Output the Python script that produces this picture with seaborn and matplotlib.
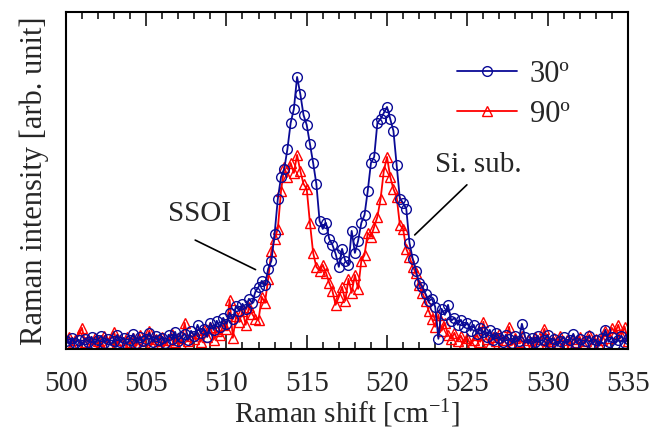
import numpy as np
import pandas as pd
import matplotlib
matplotlib.use("Agg")
import matplotlib.pyplot as plt
from matplotlib.ticker import MultipleLocator
import seaborn as sns

# Raman shift grid, 0.2 cm-1 step from 500 to 535
shift = np.round(500 + 0.2 * np.arange(176), 1)

# 30 deg spectrum (arb. unit)
i30 = [
    8, 5, 11, 6, 9, 4, 10, 7, 12, 5,
    9, 13, 6, 10, 4, 8, 14, 7, 11, 5,
    9, 15, 6, 12, 8, 10, 16, 7, 13, 9,
    11, 6, 14, 10, 17, 8, 12, 15, 9, 18,
    13, 24, 16, 20, 12, 26, 19, 28, 22, 31,
    25, 36, 30, 43, 38, 45, 40, 50, 46, 57,
    62, 68, 64, 80, 88, 115, 150, 172, 180, 200,
    226, 240, 272, 255, 234, 224, 205, 186, 165, 128,
    120, 126, 110, 104, 95, 82, 100, 88, 84, 118,
    96, 108, 126, 134, 158, 186, 192, 226, 230, 236,
    242, 230, 218, 184, 150, 146, 140, 106, 90, 78,
    66, 62, 55, 48, 50, 42, 10, 40, 34, 44,
    28, 31, 24, 29, 22, 26, 18, 24, 15, 21,
    17, 12, 19, 9, 16, 11, 7, 14, 10, 6,
    13, 8, 25, 12, 5, 11, 7, 13, 4, 9,
    14, 6, 10, 3, 8, 12, 5, 9, 15, 6,
    10, 4, 8, 13, 5, 9, 3, 11, 19, 7,
    12, 5, 9, 13, 6, 10,
]

# 90 deg spectrum (arb. unit)
i90 = [
    6, 12, 4, 9, 14, 21, 7, 10, 5, 11,
    8, 3, 13, 6, 10, 17, 5, 9, 4, 12,
    7, 11, 3, 14, 6, 9, 18, 5, 10, 8,
    12, 4, 9, 15, 7, 11, 5, 26, 8, 13,
    10, 16, 7, 19, 12, 22, 9, 18, 14, 24,
    20, 49, 11, 33, 27, 38, 24, 42, 35, 30,
    29, 52, 46, 70, 98, 110, 120, 158, 182, 172,
    186, 176, 194, 178, 165, 160, 126, 96, 82, 78,
    84, 76, 66, 58, 44, 52, 62, 48, 70, 56,
    74, 60, 88, 94, 116, 112, 122, 132, 150, 178,
    192, 172, 160, 152, 124, 120, 100, 92, 82, 76,
    64, 56, 48, 38, 30, 22, 34, 18, 26, 14,
    10, 16, 8, 13, 6, 11, 4, 9, 14, 7,
    27, 10, 5, 12, 8, 15, 6, 9, 22, 4,
    11, 7, 13, 5, 9, 3, 12, 6, 10, 20,
    8, 4, 11, 6, 13, 5, 9, 3, 10, 7,
    12, 5, 8, 14, 6, 10, 4, 9, 18, 11,
    21, 16, 24, 14, 22, 8,
]

labels = ["30º", "90º"]
xticks = [500, 505, 510, 515, 520, 525, 530, 535]

df30 = pd.DataFrame({"shift": shift, "intensity": i30})
df90 = pd.DataFrame({"shift": shift, "intensity": i90})

sns.set_style("ticks")
plt.rcParams["font.family"] = ["Liberation Serif", "DejaVu Serif"]
plt.rcParams["mathtext.default"] = "regular"

fig, ax = plt.subplots(figsize=(6.52, 4.28), dpi=100)
fig.subplots_adjust(left=0.101, right=0.963, bottom=0.185, top=0.972)

blue = "#0a0a96"
red = "#ff0000"
sns.lineplot(data=df90, x="shift", y="intensity", ax=ax, color=red, linewidth=1.3,
             marker="^", markersize=7, markerfacecolor="none", markeredgecolor=red,
             markeredgewidth=1.0, label=labels[1])
sns.lineplot(data=df30, x="shift", y="intensity", ax=ax, color=blue, linewidth=1.3,
             marker="o", markersize=7, markerfacecolor="none", markeredgecolor=blue,
             markeredgewidth=1.0, label=labels[0])

ax.set_xlim(500, 535)
ax.set_ylim(0, 337)
ax.set_xticks(xticks)
ax.xaxis.set_minor_locator(MultipleLocator(1))
ax.set_yticks([])
ax.tick_params(axis="x", which="both", direction="in", top=True, width=1.3,
               labelsize=21, pad=16)
ax.tick_params(axis="x", which="major", length=10)
ax.tick_params(axis="x", which="minor", length=5)
for s in ax.spines.values():
    s.set_visible(True)
    s.set_linewidth(1.5)
    s.set_color("black")

ax.set_xlabel("Raman shift [cm$^{-1}$]", fontsize=21, labelpad=0)
ax.set_ylabel("Raman intensity [arb. unit]", fontsize=22, labelpad=12)

h, l = ax.get_legend_handles_labels()
ax.legend(h[::-1], l[::-1], loc="upper left", bbox_to_anchor=(0.652, 0.93),
          frameon=False, fontsize=22, handlelength=1.96, handletextpad=0.43,
          labelspacing=0.35, borderpad=0.3)

ax.text(508.3, 135, "SSOI", fontsize=21, ha="center", va="center")
ax.annotate("", xy=(511.97, 78), xytext=(507.9, 110),
            arrowprops=dict(arrowstyle="-", color="black", lw=1.2))
ax.text(525.7, 184, "Si. sub.", fontsize=21, ha="center", va="center")
ax.annotate("", xy=(521.6, 112), xytext=(525.1, 166),
            arrowprops=dict(arrowstyle="-", color="black", lw=1.2))

plt.savefig("out.png", dpi=100)
